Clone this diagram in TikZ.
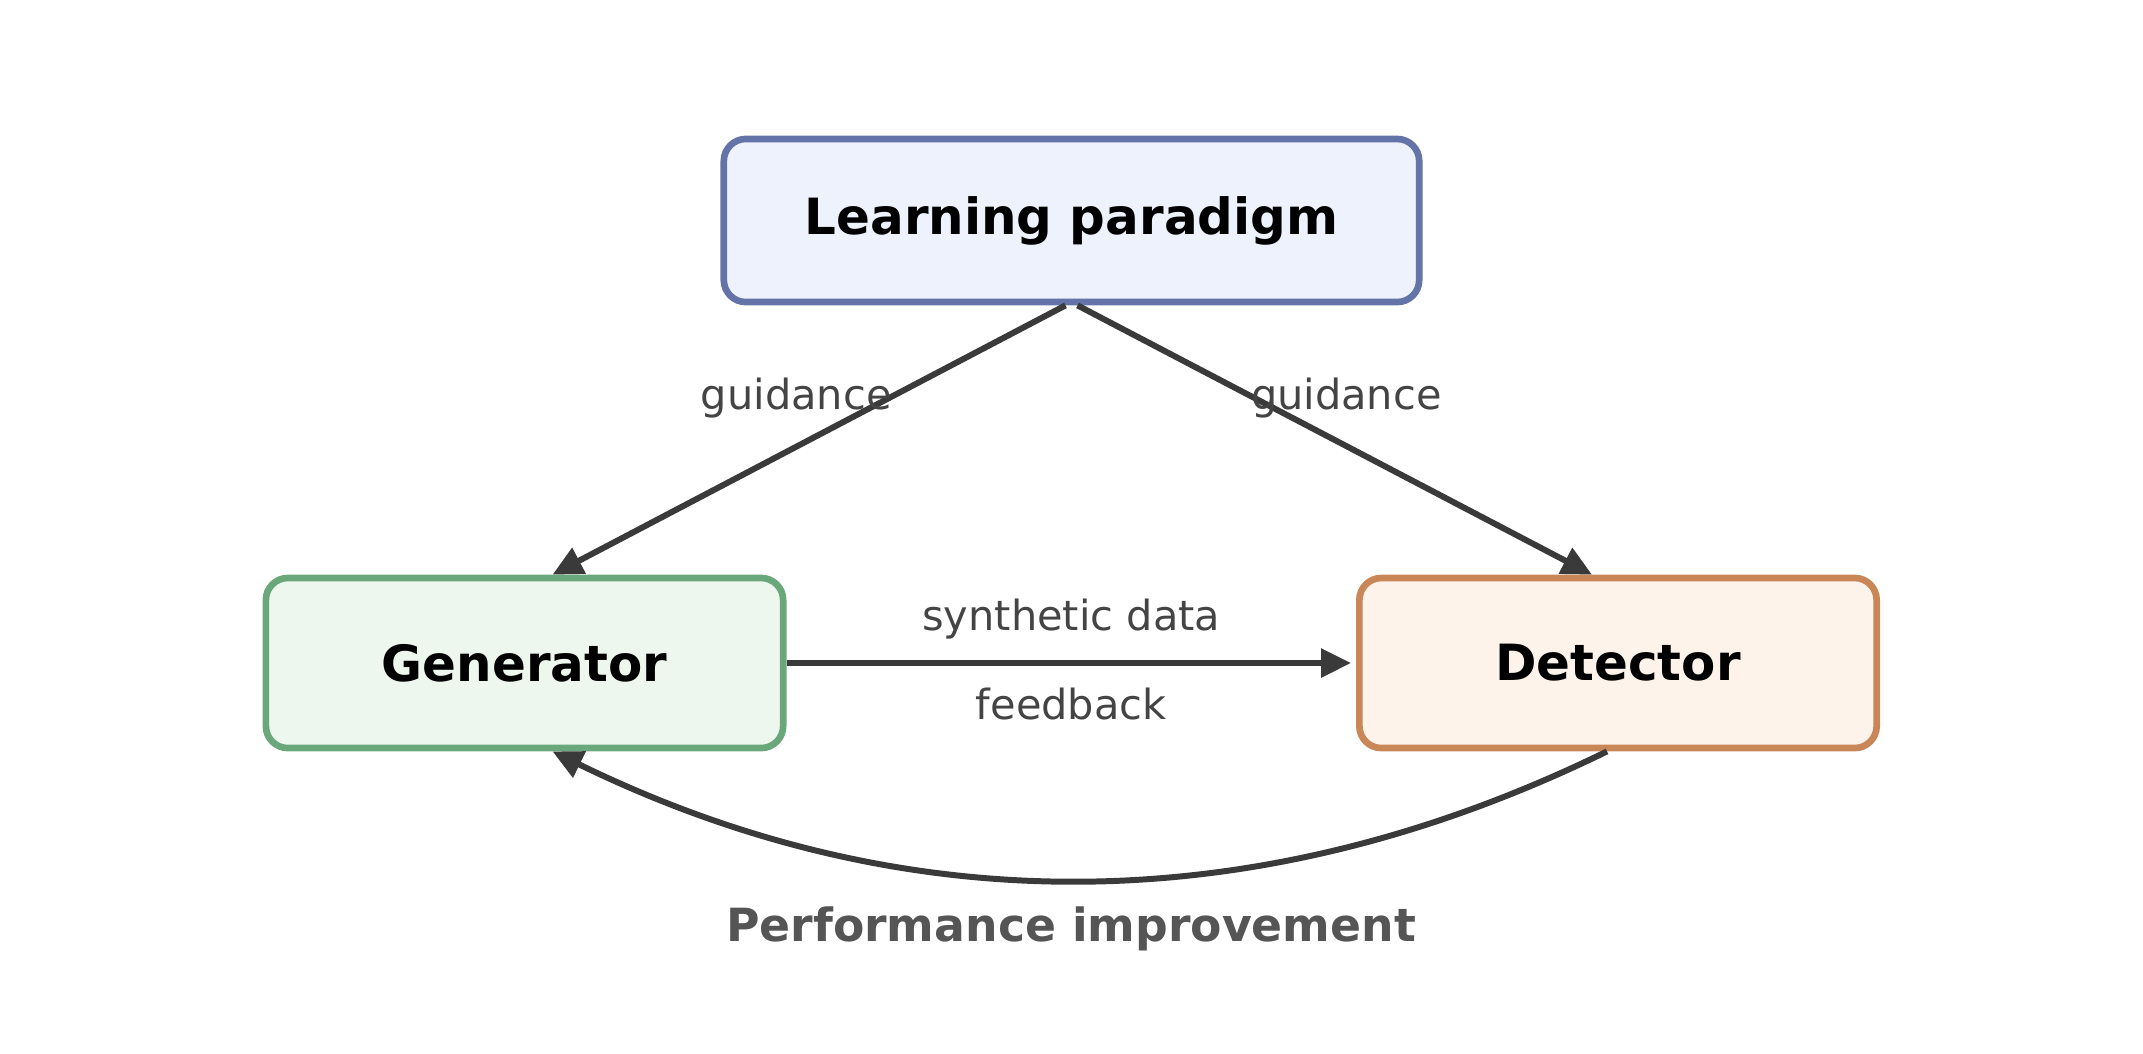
\documentclass[tikz,border=0pt]{standalone}
\usepackage{fontspec}
\setmainfont{DejaVu Sans}
\usetikzlibrary{arrows.meta}
\definecolor{pblue}{HTML}{6574A8}
\definecolor{pbluefill}{HTML}{EEF2FC}
\definecolor{pgreen}{HTML}{6AA77A}
\definecolor{pgreenfill}{HTML}{EEF7EE}
\definecolor{porange}{HTML}{C98757}
\definecolor{porangefill}{HTML}{FDF3EA}
\definecolor{pdark}{HTML}{3A3A3A}
\definecolor{ptext}{HTML}{444444}
\definecolor{pgray}{HTML}{555555}
\tikzset{
  box/.style={rectangle, rounded corners=0.22cm, line width=1.9pt, align=center,
              minimum width=5.17cm, minimum height=1.7cm,
              font=\fontsize{14.2}{17}\selectfont\bfseries},
  lpbox/.style={draw=pblue, fill=pbluefill},
  genbox/.style={draw=pgreen, fill=pgreenfill},
  detbox/.style={draw=porange, fill=porangefill},
  flow/.style={-{Triangle[length=0.3cm,width=0.28cm]}, draw=pdark, line width=1.7pt},
  lbl/.style={text=ptext, inner sep=0pt, font=\fontsize{11.8}{14}\selectfont}
}
\begin{document}
\begin{tikzpicture}[x=0.01cm, y=-0.01cm]
  \useasboundingbox (0,0) rectangle (2143,1053);
  \node[box, lpbox, minimum width=6.95cm, minimum height=1.63cm] (para) at (1071.5,220.5) {Learning paradigm};
  \node[box, genbox] (gen) at (524.5,663) {Generator};
  \node[box, detbox] (det) at (1618,663) {Detector};

  \draw[flow] ([xshift=-0.06cm]para.south) -- node[lbl, pos=0.345, anchor=east, xshift=0.06cm]{guidance} ([xshift=0.28cm]gen.north);
  \draw[flow] ([xshift=0.06cm]para.south) -- node[lbl, pos=0.345, anchor=west, xshift=-0.07cm]{guidance} ([xshift=-0.26cm]det.north);
  \draw[flow, shorten >=0.05cm] (gen) -- node[lbl, above=0.21cm]{synthetic data} node[lbl, below=0.22cm]{feedback} (det);
  \draw[flow] ([xshift=-0.11cm]det.south) .. controls (1256,923) and (904,923) .. ([xshift=0.28cm]gen.south);
  \node[text=pgray, font=\fontsize{13}{16}\selectfont\bfseries] (perf) at (1071,929) {Performance improvement};
\end{tikzpicture}
\end{document}
